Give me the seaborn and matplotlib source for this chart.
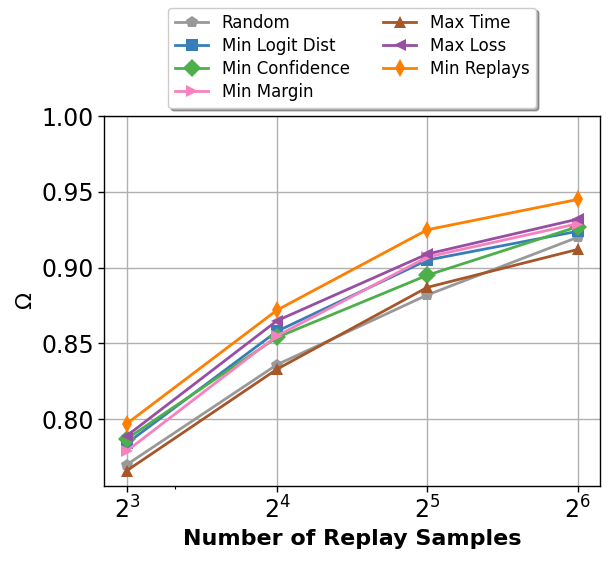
import numpy as np
import pandas as pd
import seaborn as sns
import matplotlib.pyplot as plt
from matplotlib.ticker import FixedLocator, NullFormatter

samples = [8, 16, 32, 64]
methods = ['Random', 'Min Logit Dist', 'Min Confidence', 'Min Margin',
           'Max Time', 'Max Loss', 'Min Replays']
random_vals = [0.770, 0.836, 0.882, 0.920]
logit_vals = [0.784, 0.858, 0.905, 0.924]
conf_vals = [0.787, 0.854, 0.895, 0.927]
margin_vals = [0.779, 0.855, 0.907, 0.929]
time_vals = [0.766, 0.833, 0.887, 0.912]
loss_vals = [0.789, 0.865, 0.909, 0.932]
replays_vals = [0.797, 0.872, 0.925, 0.945]

colors = ['#999999', '#377eb8', '#4daf4a', '#f781bf', '#a65628', '#984ea3', '#ff7f00']
markers = ['p', 's', 'D', '>', '^', '<', 'd']

all_vals = [random_vals, logit_vals, conf_vals, margin_vals, time_vals, loss_vals, replays_vals]
df = pd.DataFrame({
    'Samples': samples * len(methods),
    'Omega': np.concatenate(all_vals),
    'Method': np.repeat(methods, len(samples)),
})

plt.rcParams['font.family'] = ['DejaVu Sans']
fig, ax = plt.subplots(figsize=(6.13, 5.61), dpi=100)
fig.subplots_adjust(left=0.170, right=0.979, top=0.793, bottom=0.134)

sns.lineplot(data=df, x='Samples', y='Omega', hue='Method', style='Method',
             hue_order=methods, style_order=methods,
             palette=colors, markers=markers, dashes=False,
             linewidth=2, markersize=9, markeredgewidth=0, ax=ax)

ax.set_xscale('log', base=2)
ax.xaxis.set_minor_locator(FixedLocator([10]))
ax.xaxis.set_minor_formatter(NullFormatter())
ax.tick_params(axis='both', which='major', labelsize=17, length=4, width=1, direction='out')
ax.tick_params(axis='x', which='minor', length=2.5, width=0.8)
ax.set_ylim(0.756, 1.0)
ax.set_yticks([0.80, 0.85, 0.90, 0.95, 1.00])
ax.grid(True, color='#b0b0b0', linewidth=1)
for s in ax.spines.values():
    s.set_color('black')
    s.set_linewidth(1)

ax.set_xlabel('Number of Replay Samples', fontsize=16, fontweight='bold')
ax.set_ylabel('Ω', fontsize=16)

ax.legend(loc='lower center', bbox_to_anchor=(0.5, 1.022), borderaxespad=0,
          ncol=2, fontsize=12, labelspacing=0.3, shadow=True, fancybox=True,
          frameon=True)

fig.savefig('out.png', dpi=100)
